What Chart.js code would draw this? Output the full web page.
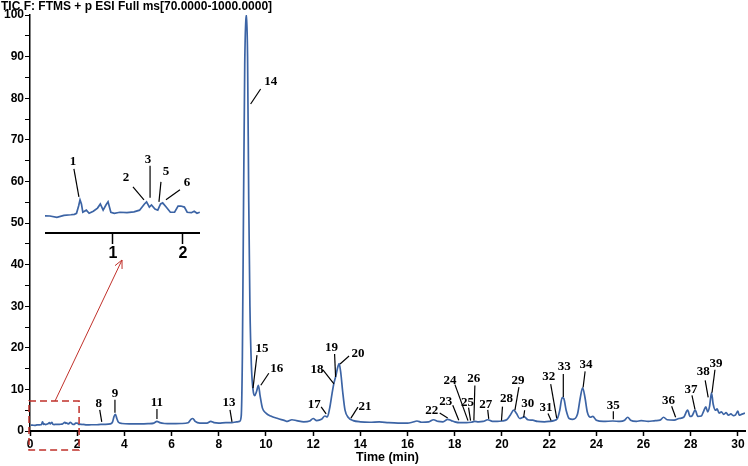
<!DOCTYPE html>
<html>
<head>
<meta charset="utf-8">
<script src="https://cdn.jsdelivr.net/npm/chart.js@4.4.0/dist/chart.umd.min.js"></script>
<style>
  html, body { margin: 0; padding: 0; background: #fff; }
  #wrap { position: relative; width: 748px; height: 466px; }
  #main { position: absolute; left: 0; top: 0; }
  #inset { position: absolute; left: 45px; top: 150px; }
</style>
</head>
<body>
<div id="wrap">
  <canvas id="main" width="748" height="466"></canvas>
  <canvas id="inset" width="155" height="110"></canvas>
</div>
<script>
// タイトル
const titleText = 'TIC F: FTMS + p ESI Full ms[70.0000-1000.0000]';

// 0〜2.2分の拡大部分（インセット）
const insetTime = [0.03, 0.1, 0.2, 0.3, 0.4, 0.45, 0.48, 0.51, 0.53, 0.55, 0.57, 0.62, 0.66, 0.72, 0.78, 0.82, 0.86, 0.9, 0.93, 0.97, 1.02, 1.1, 1.2, 1.3, 1.38, 1.45, 1.48, 1.52, 1.55, 1.6, 1.64, 1.68, 1.71, 1.76, 1.82, 1.88, 1.93, 1.97, 2.02, 2.06, 2.12, 2.16, 2.2, 2.24];
const insetTic  = [1.43, 1.42, 1.35, 1.45, 1.48, 1.5, 1.55, 1.9, 2.2, 2.0, 1.6, 1.7, 1.55, 1.65, 1.8, 2.0, 1.7, 1.95, 2.1, 1.6, 1.55, 1.6, 1.58, 1.62, 1.7, 2.0, 2.1, 1.85, 1.95, 1.75, 1.7, 2.0, 2.05, 1.85, 1.6, 1.6, 1.9, 1.9, 1.85, 1.6, 1.58, 1.65, 1.55, 1.6];

// 2.2分以降のクロマトグラム
const runTime = [2.4, 2.6, 2.8, 3.0, 3.2, 3.4, 3.5, 3.56, 3.62, 3.68, 3.75, 3.9, 4.2, 4.6, 5.0, 5.25, 5.38, 5.5, 5.7, 6.0, 6.4, 6.7, 6.82, 6.9, 7.0, 7.2, 7.5, 7.66, 7.8, 8.0, 8.3, 8.56, 8.75, 8.88, 8.95,
  9.0, 9.05, 9.1, 9.15, 9.18, 9.22, 9.27, 9.32, 9.38, 9.45, 9.52, 9.6, 9.68, 9.75, 9.85, 10.0, 10.2, 10.5, 10.8,
  10.9, 11.1, 11.3, 11.6, 11.85, 12.0, 12.15, 12.35, 12.5, 12.6, 12.7, 12.8, 12.88, 12.95, 13.05, 13.1, 13.17, 13.25, 13.35, 13.5, 13.7,
  14.0, 14.4, 14.8, 15.2, 15.6, 16.0, 16.2, 16.4, 16.6, 16.9, 17.1, 17.3, 17.5, 17.7, 17.85, 18.0, 18.2, 18.5, 18.7, 18.85, 19.0, 19.2, 19.4, 19.6, 19.8,
  20.0, 20.2, 20.35, 20.5, 20.62, 20.75, 20.95, 21.1, 21.3, 21.5, 21.8, 22.0, 22.2, 22.35, 22.45, 22.55, 22.62, 22.72, 22.85, 23.0, 23.2, 23.32, 23.42, 23.52, 23.62, 23.75, 23.85,
  24.0, 24.3, 24.7, 25.0, 25.2, 25.33, 25.45, 25.7, 25.9, 26.2, 26.5, 26.7, 26.85, 27.0, 27.3, 27.5, 27.7, 27.87, 27.97, 28.05, 28.19, 28.3, 28.45, 28.55, 28.64, 28.72, 28.8, 28.88, 28.95,
  29.05, 29.12, 29.2, 29.3, 29.4, 29.5, 29.6, 29.7, 29.8, 29.9, 30.0, 30.05, 30.15, 30.3];
const runTic  = [1.45, 1.5, 1.5, 1.6, 1.6, 1.7, 2.2, 3.5, 4.0, 3.0, 2.1, 1.8, 1.7, 1.7, 1.75, 1.9, 2.3, 2.0, 1.8, 1.75, 1.8, 2.0, 2.8, 3.0, 2.3, 1.9, 1.9, 2.3, 2.0, 1.9, 2.0, 2.0, 2.2, 2.3, 3.5,
  18, 55, 88, 99, 100, 90, 55, 30, 16, 10, 8.5, 9.5, 11, 8.5, 5.5, 4.3, 3.6, 3.0, 2.5,
  2.3, 2.7, 2.5, 2.2, 2.4, 3.0, 2.5, 2.8, 3.6, 3.4, 5.5, 9, 11.5, 13, 15.5, 16.2, 14, 9.5, 5, 3.2, 2.5,
  2.2, 2.1, 2.2, 2.0, 1.9, 1.9, 2.1, 2.4, 2.1, 2.2, 2.7, 2.3, 2.2, 2.8, 2.5, 2.2, 2.0, 2.0, 2.1, 2.3, 2.2, 2.3, 2.7, 2.3, 2.3,
  2.4, 2.7, 3.8, 5.0, 4.2, 3.0, 3.4, 2.7, 2.6, 2.3, 2.2, 2.3, 2.5, 3.0, 5, 8.0, 7.8, 5, 3, 2.8, 4, 8, 10.4, 8, 4.5, 3.3, 3.5,
  2.6, 2.3, 2.4, 2.3, 2.6, 3.3, 2.6, 2.3, 2.5, 2.3, 2.5, 2.6, 3.3, 2.7, 2.6, 3.0, 3.3, 5.0, 3.5, 3.6, 5.0, 3.5, 3.6, 4.8, 5.8, 4.6, 6, 9.2, 6.5,
  5.0, 5.3, 4.3, 4.6, 4.0, 4.4, 3.8, 4.1, 3.7, 3.9, 4.8, 3.8, 4.0, 4.3];

// 目盛り
const xTickLabels = [0, 2, 4, 6, 8, 10, 12, 14, 16, 18, 20, 22, 24, 26, 28, 30];
const yTickLabels = [0, 5, 10, 15, 20, 25, 30, 35, 40, 45, 50, 55, 60, 65, 70, 75, 80, 85, 90, 95, 100];
const insetTickLabels = [1, 2];

// ピーク番号
const peakNames = ['8', '9', '11', '13', '14', '15', '16', '17', '18', '19', '20', '21', '22', '23', '24', '25', '26', '27', '28', '29', '30', '31', '32', '33', '34', '35', '36', '37', '38', '39'];
const peakTimes = [3.04, 3.6, 5.38, 8.56, 9.35, 9.45, 9.78, 12.55, 12.88, 12.95, 13.14, 13.6, 17.7, 18.17, 18.56, 18.67, 18.81, 19.44, 19.98, 20.55, 20.92, 22.08, 22.32, 22.6, 23.44, 24.72, 27.36, 28.18, 28.74, 28.9];
const peakTips  = [2.2, 4.4, 2.9, 2.2, 78.6, 10.3, 11, 4.1, 11.3, 13, 16.1, 3.1, 3.1, 2.6, 2.5, 2.5, 2.5, 2.9, 2.5, 5, 3.3, 2.5, 3.1, 8.2, 10.5, 2.8, 3.3, 5.2, 8.1, 9.2];

const insetPeakNames = ['1', '2', '3', '5', '6'];
const insetPeakTimes = [0.514, 1.443, 1.53, 1.657, 1.757];
const insetPeakTips  = [2.34, 2.2, 2.3, 2.1, 2.2];

// 引き出し線のオフセット [線dx, 線dy, 文字dx, 文字dy]（px）
const mainLeaders = [
  [-2, -12, -3, -18], [0, -13, 0, -19], [0, -10, 0, -16], [-2, -12, -3, -19],
  [10, -15, 20, -22], [4, -33, 9, -40], [8, -12, 16, -17], [-5, -7, -12, -9],
  [-11, -14, -17, -14], [-1, -23, -4, -29], [9, -8, 18, -10], [7, -11, 14, -11],
  [-8, -5, -16, -7], [-6, -15, -13, -19], [-13, -36, -18, -40], [-2, -13, -3, -18],
  [1, -35, 0, -42], [-1, -9, -3, -14], [1, -14, 5, -22], [4, -23, 3, -30],
  [1, -7, 4, -14], [-3, -7, -5, -13], [-6, -34, -8, -41], [0, -23, 1, -30],
  [2, -16, 3, -23], [0, -8, 0, -14], [-4, -11, -7, -17], [-3, -14, -4, -20],
  [-3, -17, -5, -26], [3, -23, 4, -29]
];
const insetLeaders = [[-5, -28, -6, -35], [-11, -13, -18, -22], [0, -32, -2, -38], [2, -20, 7, -30], [14, -10, 21, -17]];

const insetBox = { left: 45, top: 150 };
const lineColor = '#3c64a5';
const labelFont = 'bold 13px "Liberation Serif", "Times New Roman", serif';
const axisFont = { family: '"Liberation Sans", Arial, sans-serif', weight: 'bold', size: 12 };

// ラベル・枠・矢印
const mainDecor = {
  id: 'mainDecor',
  afterDraw(chart) {
    const { ctx, chartArea, scales: { x, y } } = chart;
    ctx.save();
    ctx.fillStyle = '#000';
    ctx.strokeStyle = '#000';
    ctx.font = 'bold 12px "Liberation Sans", Arial, sans-serif';
    ctx.textAlign = 'left';
    ctx.textBaseline = 'middle';
    ctx.fillText(titleText, 1, 7);

    ctx.font = 'bold 12.5px "Liberation Sans", Arial, sans-serif';
    ctx.textAlign = 'center';
    ctx.fillText('Time (min)', (chartArea.left + chartArea.right) / 2, 458);

    ctx.font = labelFont;
    ctx.lineWidth = 1.2;
    peakNames.forEach((name, i) => {
      const px = x.getPixelForValue(peakTimes[i]);
      const py = y.getPixelForValue(peakTips[i]);
      const o = mainLeaders[i];
      ctx.beginPath();
      ctx.moveTo(px, py);
      ctx.lineTo(px + o[0], py + o[1]);
      ctx.stroke();
      ctx.fillText(name, px + o[2], py + o[3]);
    });

    // 赤い点線の枠
    const red = '#c0302a';
    ctx.strokeStyle = red;
    ctx.lineWidth = 1.5;
    ctx.setLineDash([7, 4]);
    const rx0 = chartArea.left - 1;
    const rx1 = x.getPixelForValue(2.08);
    const ry0 = y.getPixelForValue(7.2);
    const ry1 = chartArea.bottom + 19;
    ctx.strokeRect(rx0, ry0, rx1 - rx0, ry1 - ry0);
    ctx.setLineDash([]);

    // 矢印
    const ax0 = x.getPixelForValue(1.06);
    const ay0 = ry0;
    const ax1 = insetBox.left + 77;
    const ay1 = insetBox.top + 110;
    ctx.lineWidth = 1;
    ctx.beginPath();
    ctx.moveTo(ax0, ay0);
    ctx.lineTo(ax1, ay1);
    const ang = Math.atan2(ay1 - ay0, ax1 - ax0);
    [0.45, -0.45].forEach(d => {
      ctx.moveTo(ax1, ay1);
      ctx.lineTo(ax1 - 9 * Math.cos(ang + d), ay1 - 9 * Math.sin(ang + d));
    });
    ctx.stroke();
    ctx.restore();
  }
};

const insetDecor = {
  id: 'insetDecor',
  afterDraw(chart) {
    const { ctx, scales: { x, y } } = chart;
    ctx.save();
    ctx.fillStyle = '#000';
    ctx.strokeStyle = '#000';
    ctx.font = labelFont;
    ctx.textAlign = 'center';
    ctx.textBaseline = 'middle';
    ctx.lineWidth = 1.2;
    insetPeakNames.forEach((name, i) => {
      const px = x.getPixelForValue(insetPeakTimes[i]);
      const py = y.getPixelForValue(insetPeakTips[i]);
      const o = insetLeaders[i];
      ctx.beginPath();
      ctx.moveTo(px, py);
      ctx.lineTo(px + o[0], py + o[1]);
      ctx.stroke();
      ctx.fillText(name, px + o[2], py + o[3]);
    });
    ctx.restore();
  }
};

const mainPoints = insetTime.concat(runTime).map((t, i) => ({ x: t, y: insetTic.concat(runTic)[i] }));
const insetPoints = insetTime.map((t, i) => ({ x: t, y: insetTic[i] }));

new Chart(document.getElementById('main'), {
  type: 'line',
  data: {
    datasets: [{
      data: mainPoints,
      borderColor: lineColor,
      borderWidth: 1.7,
      pointRadius: 0,
      cubicInterpolationMode: 'monotone'
    }]
  },
  options: {
    responsive: false,
    animation: false,
    layout: { padding: { top: 15, right: 3, left: 0, bottom: 0 } },
    plugins: { legend: { display: false }, tooltip: { enabled: false } },
    scales: {
      x: {
        type: 'linear',
        min: 0,
        max: 30.3,
        afterBuildTicks: s => { s.ticks = xTickLabels.map(v => ({ value: v })); },
        afterFit: s => { s.height = 35; },
        border: { color: '#000', width: 2 },
        grid: { drawOnChartArea: false, color: '#000', tickLength: 5, tickWidth: 1.5 },
        ticks: { color: '#000', font: axisFont, padding: 1, maxRotation: 0 }
      },
      y: {
        min: 0,
        max: 100,
        afterBuildTicks: s => { s.ticks = yTickLabels.map(v => ({ value: v })); },
        afterFit: s => { s.width = 30; },
        border: { color: '#000', width: 1.5 },
        grid: { drawOnChartArea: false, color: '#000', tickLength: 5, tickWidth: 1 },
        ticks: { color: '#000', font: axisFont, padding: 1, callback: v => (v % 10 === 0 ? v : '') }
      }
    }
  },
  plugins: [mainDecor]
});

new Chart(document.getElementById('inset'), {
  type: 'line',
  data: {
    datasets: [{
      data: insetPoints,
      borderColor: lineColor,
      borderWidth: 1.7,
      pointRadius: 0,
      tension: 0
    }]
  },
  options: {
    responsive: false,
    animation: false,
    layout: { padding: 0 },
    plugins: { legend: { display: false }, tooltip: { enabled: false } },
    scales: {
      x: {
        type: 'linear',
        min: 0.03,
        max: 2.243,
        afterBuildTicks: s => { s.ticks = insetTickLabels.map(v => ({ value: v })); },
        afterFit: s => { s.height = 27; },
        border: { color: '#000', width: 2 },
        grid: { drawOnChartArea: false, color: '#000', tickLength: 11, tickWidth: 1.5 },
        ticks: { color: '#000', font: { family: '"Liberation Sans", Arial, sans-serif', weight: 'bold', size: 16 }, padding: 0 }
      },
      y: { display: false, min: 0.6, max: 4.6 }
    }
  },
  plugins: [insetDecor]
});
</script>
</body>
</html>
